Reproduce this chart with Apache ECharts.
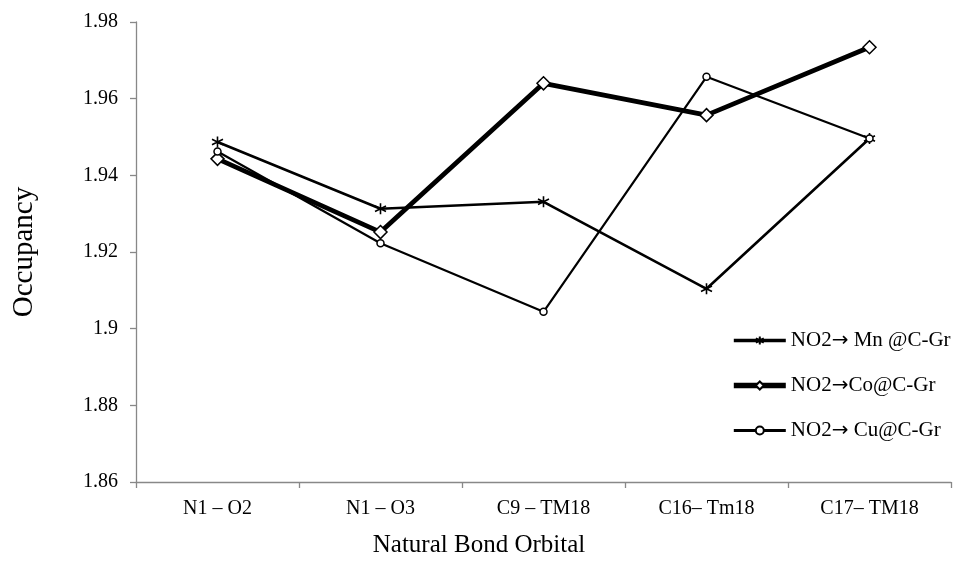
<!DOCTYPE html>
<html>
<head>
<meta charset="utf-8">
<script src="https://cdn.jsdelivr.net/npm/echarts@6/dist/echarts.min.js"></script>
<style>
html,body{margin:0;padding:0;background:#fff;}
#chart{width:958px;height:571px;}
</style>
</head>
<body>
<div id="chart"></div>
<script>
var categories = ['N1 – O2', 'N1 – O3', 'C9 – TM18', 'C16– Tm18', 'C17– TM18'];
var seriesNames = ['NO2→ Mn @C-Gr', 'NO2→Co@C-Gr', 'NO2→ Cu@C-Gr'];
var mnValues = [1.9487, 1.9313, 1.9331, 1.9104, 1.9496];
var coValues = [1.9443, 1.9252, 1.9640, 1.9557, 1.9734];
var cuValues = [1.9462, 1.9223, 1.9044, 1.9657, 1.9496];
var yMin = 1.86, yMax = 1.98, yStep = 0.02;
var xTitle = 'Natural Bond Orbital';
var yTitle = 'Occupancy';

var FONT = 'Liberation Serif';
var starPath = 'path://M5,0L5,10M0.7,2.5L9.3,7.5M0.7,7.5L9.3,2.5';
var lineWidths = [2.6, 4.8, 2.2];

var chart = echarts.init(document.getElementById('chart'), null, {renderer: 'canvas'});
chart.setOption({
  backgroundColor: '#fff',
  animation: false,
  title: {
    text: xTitle,
    left: 'center',
    top: 533,
    padding: 0,
    textStyle: {fontFamily: FONT, fontSize: 25, fontWeight: 'normal', color: '#000'}
  },
  grid: {left: 136, right: 7, top: 22, bottom: 89},
  legend: {
    orient: 'vertical',
    left: 731,
    top: 330,
    padding: 0,
    itemWidth: 52,
    itemHeight: 10,
    itemGap: 24,
    textStyle: {
      fontFamily: FONT, fontSize: 21, color: '#000',
      rich: {arr: {fontFamily: 'DejaVu Sans', fontSize: 20, color: '#000'}}
    },
    formatter: function (name) { return name.replace('→', '{arr|→}'); },
    data: seriesNames.map(function (n, i) {
      return {name: n, lineStyle: {width: lineWidths[i] + 0.8, color: '#000'}};
    })
  },
  xAxis: {
    type: 'category',
    data: categories,
    boundaryGap: true,
    axisLine: {lineStyle: {color: '#888', width: 1.3}},
    axisTick: {show: true, length: 6, lineStyle: {color: '#888', width: 1.3}},
    axisLabel: {fontFamily: FONT, fontSize: 20, color: '#000', margin: 17}
  },
  yAxis: {
    type: 'value',
    min: yMin,
    max: yMax,
    interval: yStep,
    splitLine: {show: false},
    axisLine: {show: true, lineStyle: {color: '#888', width: 1.3}},
    axisTick: {show: true, length: 6, lineStyle: {color: '#888', width: 1.3}},
    axisLabel: {fontFamily: FONT, fontSize: 20, color: '#000', margin: 18},
    name: yTitle,
    nameLocation: 'middle',
    nameGap: 97,
    nameTextStyle: {fontFamily: FONT, fontSize: 29, color: '#000'}
  },
  series: [
    {
      name: seriesNames[0],
      type: 'line',
      data: mnValues,
      symbol: starPath,
      symbolSize: 11,
      lineStyle: {color: '#000', width: lineWidths[0]},
      itemStyle: {color: '#000', borderColor: '#000', borderWidth: 1.6},
      z: 3
    },
    {
      name: seriesNames[1],
      type: 'line',
      data: coValues,
      symbol: 'diamond',
      symbolSize: 13,
      lineStyle: {color: '#000', width: lineWidths[1]},
      itemStyle: {color: '#fff', borderColor: '#000', borderWidth: 1.5},
      z: 2
    },
    {
      name: seriesNames[2],
      type: 'line',
      data: cuValues,
      symbol: 'circle',
      symbolSize: 7,
      lineStyle: {color: '#000', width: lineWidths[2]},
      itemStyle: {color: '#fff', borderColor: '#000', borderWidth: 1.5},
      z: 4
    }
  ]
});
</script>
</body>
</html>
